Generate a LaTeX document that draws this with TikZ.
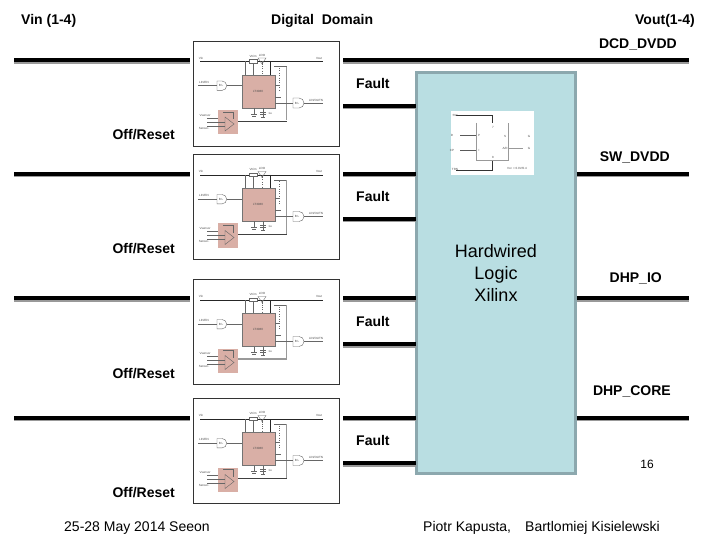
\documentclass[tikz,border=0pt]{standalone}
\usepackage{fontspec}
\setmainfont{Liberation Sans}
\definecolor{pinkic}{HTML}{D9AFA6}
\definecolor{xil}{HTML}{B9DEE2}
\definecolor{xilb}{HTML}{8CA8AE}
\definecolor{shadow}{HTML}{999999}
\tikzset{
 x=1pt,y=-1pt,
 lab/.style={font=\fontsize{14}{16}\selectfont\bfseries,inner sep=0pt,text=black},
 plain/.style={font=\fontsize{14}{16}\selectfont,inner sep=0pt,text=black},
 bus/.style={line width=4.6pt,black},
 sch/.style={line width=.4pt,black!60},
 tiny/.style={font=\fontsize{3}{3.5}\selectfont,inner sep=0pt,text=black!70},
 icbox/.style={fill=pinkic,draw=black!55,line width=.4pt,outer sep=0pt},
 frame/.style={draw=black!80,line width=.9pt,fill=white,outer sep=0pt},
 pics/vreg/.style={code={
  \node[frame,minimum width=146pt,minimum height=105pt,inner sep=0pt,anchor=north west] (-f) at (0,0) {};
  \draw[line width=.7pt,black!85] (7,20.5)--(130,20.5);
  \node[tiny] (-vi) at (8,17) {Vin};
  \node[tiny] (-vo) at (126,17) {Vout};
  \draw[sch] (52,20.5)--(52,34) (60,20.5)--(60,34);
  \draw[sch] (69,20.5)--(69,24);
  \draw[sch,dotted,line width=.9pt] (69,25)--(69,34);
  \draw[black!85,line width=.8pt] (77,20.5)--(77,34);
  \draw[sch,fill=white] (56,18.5)--(64,18.5)--(64,22)--(56,22)--cycle;
  \draw[sch] (65,17)--(73,17)--(69,23)--cycle;
  \node[tiny] at (60,15) {Vtrim};
  \node[tiny] at (69,14) {LDO};
  \node[icbox,minimum width=33pt,minimum height=33pt,inner sep=0pt,anchor=north west] (-ic) at (48.7,34) {};
  \node[tiny] at (65,50) {LT3080};
  \draw[sch] (81,25.7)--(93.7,25.7);
  \draw[sch,dotted,line width=1pt] (86,27)--(86,49);
  \draw[shadow,line width=.9pt] (93.7,25.7)--(93.7,79);
  \draw[sch] (82,44)--(86,44) (82,56)--(88,56);
  \draw[sch] (82,62)--(100,62);
  \draw[sch] (5,44.7)--(24,44.7) (34,44.7)--(48.7,44.7);
  \draw[sch,fill=white] (24,40) -- (29,40) arc (-90:90:4.7) -- (24,49.4) -- cycle;
  \node[tiny] at (28,44.7) {B~L};
  \draw[sch,fill=white] (100,57) -- (106,57) arc (-90:90:5) -- (100,67) -- cycle;
  \node[tiny] at (104,62) {B~L};
  \draw[sch] (111,62)--(130,62);
  \node[tiny] at (11,41) {LIN/EN};
  \node[tiny] at (123,59) {LIN/OUTN};
  \draw[sch] (61,67)--(61,73) (58,73)--(64,73) (59,75)--(63,75);
  \draw[sch] (70,67)--(70,76) (67,71)--(73,71) (67,73)--(73,73) (68,76)--(72,76);
  \node[tiny] at (77,72) {1u};
  \node[fill=pinkic,minimum width=20pt,minimum height=24pt,inner sep=0pt,anchor=north west,outer sep=0pt] (-am) at (25,69) {};
  \draw[sch] (32,76)--(32,90)--(41,83)--cycle;
  \draw[sch,black!75] (45,80)--(93.7,80);
  \draw[sch] (14,77)--(25,77) (14,81)--(32,81) (14,85)--(32,85) (30,71)--(40,71)--(40,78);
  \node[tiny] at (12,74) {Vsensor};
  \node[tiny] at (11,87) {Sensor-};
 }}
}
\begin{document}
\begin{tikzpicture}
\useasboundingbox (0,0) rectangle (720,540);
\fill[white] (0,0) rectangle (720,540);
% module frames and schematics
\pic (m1) at (193,41) {vreg};
\pic (m2) at (193,154.5) {vreg};
\pic (m3) at (193,279.5) {vreg};
\pic (m4) at (193,398.5) {vreg};
\draw[shadow,line width=1.2pt] (m3-am.east |- 0,359)--(286.7,359);
% Xilinx
\node[draw=xilb,fill=xil,line width=3pt,outer sep=0pt,minimum width=158.4pt,minimum height=401.3pt,inner sep=0pt,anchor=north west] (x) at (416.8,72.2) {};
% coordinates
\foreach \n/\y in {a/60,b/174,c/298,d/418}{
 \coordinate (l\n) at (14,\y); \coordinate (m\n) at (190,\y);
 \coordinate (r\n) at (343,\y); \coordinate (q\n) at (415.5,\y);
 \coordinate (s\n) at (689,\y); \coordinate (t\n) at (576.5,\y);
}
\foreach \n/\y in {e/106,f/219,g/344,h/463}{
 \coordinate (r\n) at (343,\y); \coordinate (q\n) at (415.5,\y);
}
% shadows (grey under-lines), drawn first
\foreach \p/\q/\w in {la/ma/2,ra/sa/2,lb/mb/.6,rb/qb/.6,tb/sb/.6,lc/mc/2,rc/qc/2,tc/sc/2,ld/md/.4,rd/qd/.4,td/sd/.4,re/qe/1.2,rf/qf/1,rg/qg/2,rh/qh/2}{
 \draw[shadow,line width=\w pt] ([yshift=-2.3pt-.5*\w pt]\p)--([yshift=-2.3pt-.5*\w pt]\q);
}
\draw[bus] (la)--(ma);
\draw[bus] (ra)--(sa);
\foreach \n in {b,c,d}{
 \draw[bus] (l\n)--(m\n);
 \draw[bus] (r\n)--(q\n);
 \draw[bus] (t\n)--(s\n);
}
\foreach \n in {e,f,g,h}{
 \draw[bus] (r\n)--(q\n);
}
% FSM picture
\node[fill=white,minimum width=83.3pt,minimum height=64pt,inner sep=0pt,outer sep=0pt,anchor=north west] (fsm) at (450.7,111) {};
\begin{scope}[shift={(440,100)}]
\draw[black!80,line width=.7pt] (16,15.7)--(52.7,15.7)--(52.7,23) (16,70)--(52.7,70)--(52.7,60);
\draw[black!65,line width=.6pt] (20,35)--(37,35) (20,50)--(37,50);
\draw[black!40,line width=.5pt] (36,23)--(36,60)--(68,60)--(68,23) (68,48)--(83,48);
\node[tiny] at (15,15) {SW};
\node[tiny] at (12,35) {D};
\node[tiny] at (12,50) {CP};
\node[tiny] at (15,69) {TRN};
\node[tiny] at (39,35) {P};
\node[tiny] at (39,50) {I};
\node[tiny] at (53,27) {7};
\node[tiny] at (53,57) {8};
\node[tiny] at (65,36) {S};
\node[tiny] at (65,48) {A/D};
\node[tiny] at (89,36) {G};
\node[tiny] at (89,48) {G};
\node[tiny] at (77,68) {Vcc = 0.0V/0.4};
\end{scope}
% labels
\node[lab,anchor=base west] (t1) at (21,25) {Vin (1-4)};
\node[lab,anchor=base west] (t2) at (271,25) {Digital\ \ Domain};
\node[lab,anchor=base east] (t3) at (695,25) {Vout(1-4)};
\node[lab,anchor=base east] (t4) at (677,49) {DCD\_DVDD};
\node[lab,anchor=base west] (f1) at (356,88.5) {Fault};
\node[lab,anchor=base west] (f2) at (356,201.5) {Fault};
\node[lab,anchor=base west] (f3) at (356,326.5) {Fault};
\node[lab,anchor=base west] (f4) at (356,445.5) {Fault};
\node[lab,anchor=base east] (o1) at (175,140) {Off/Reset};
\node[lab,anchor=base east] (o2) at (175,253) {Off/Reset};
\node[lab,anchor=base east] (o3) at (175,378) {Off/Reset};
\node[lab,anchor=base east] (o4) at (175,497) {Off/Reset};
\node[lab,anchor=base east] (s1) at (670,162) {SW\_DVDD};
\node[lab,anchor=base east] (s2) at (662,282) {DHP\_IO};
\node[lab,anchor=base east] (s3) at (671,395) {DHP\_CORE};
\node[align=center,font=\fontsize{18}{22}\selectfont,inner sep=0pt] (hl) at (496,273) {Hardwired\\Logic\\Xilinx};
\node[plain,font=\fontsize{12}{14}\selectfont] (n16) at (647,464) {16};
\node[plain,anchor=base west] (b1) at (64,531) {25-28 May 2014 Seeon};
\node[plain,anchor=base west] (b2) at (423,531) {Piotr Kapusta,};
\node[plain,anchor=base west] (b3) at (525,531) {Bartlomiej Kisielewski};
\end{tikzpicture}
\end{document}
